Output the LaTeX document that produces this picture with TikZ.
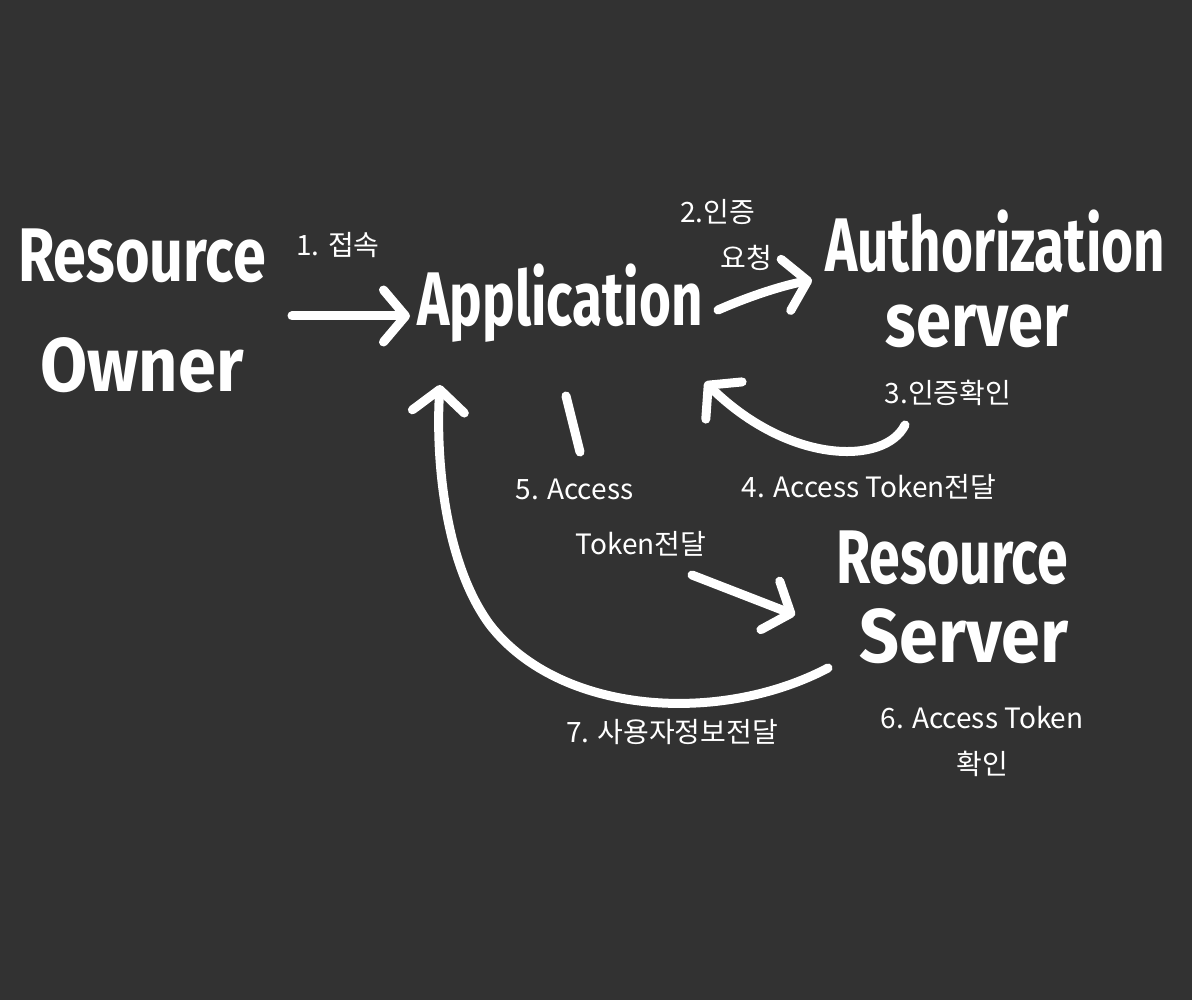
\documentclass[tikz,border=0pt]{standalone}
\usepackage{fontspec}
\setmainfont{Fira Sans}
\newfontfamily\kr{Noto Sans CJK KR}
\usetikzlibrary{arrows.meta}
\definecolor{bg}{RGB}{50,50,50}
\newcommand\squeezed[2][0.72]{\scalebox{#1}[1]{#2}}
\begin{document}
\begin{tikzpicture}[x=1pt,y=-1pt,
  big/.style={text=white,font=\fontsize{76}{100}\selectfont\bfseries,align=center,inner sep=0pt},
  lbl/.style={text=white,font=\kr\fontsize{28}{46}\selectfont,align=center,inner sep=0pt},
  arr/.style={draw=white,line width=9pt,line cap=round,-{Straight Barb[length=22pt,width=52pt,round]}},
  seg/.style={draw=white,line width=9pt,line cap=round}]
\fill[bg] (0,0) rectangle (1192,1000);
\useasboundingbox (0,0) rectangle (1192,1000);

\node[big] (owner) at (142,311) {\squeezed[0.78]{Resource}\\[10pt]\squeezed[0.9]{Owner}};
\node[big] (app) at (560,303) {\squeezed{Application}};
\node[big] (auth) at (995,279) {\squeezed{Authorization}\\[-25pt]\squeezed[0.83]{server}\hspace*{36pt}};
\node[big] (rs) at (952,597) {\squeezed[0.73]{Resource}\\[-21pt]\hspace*{24pt}\squeezed[0.92]{Server}};

\node[lbl] (l1) at (338,245) {1. 접속};
\node[lbl,align=left] (l2) at (726,235) {2.인증\\\hspace*{40pt}요청};
\node[lbl] (l3) at (948,393) {3.인증확인};
\node[lbl] (l4) at (869,487) {4. Access Token전달};
\node[lbl,align=left] (l5) at (611,518) {5. Access\\[9pt]\hspace*{60pt}Token전달};
\node[lbl] (l6) at (982,741) {6. Access Token\\확인};
\node[lbl] (l7) at (672,732) {7. 사용자정보전달};

\coordinate (a1s) at (292,316);
\coordinate (a1e) at (410,316);
\coordinate (a2s) at (718,310);
\coordinate (a2e) at (812,280);
\coordinate (a3s) at (905,425);
\coordinate (a3e) at (705,382);
\coordinate (a5s) at (566,396);
\coordinate (a5m) at (580,452);
\coordinate (a5n) at (692,575);
\coordinate (a5e) at (795,615);
\coordinate (a7s) at (828,668);
\coordinate (a7e) at (440,385);

\draw[arr] (a1s) -- (a1e);
\draw[arr] (a2s) .. controls (745,298) and (780,286) .. (a2e);
\draw[arr] (a3s) .. controls (885,465) and (790,465) .. (a3e);
\draw[seg] (a5s) -- (a5m);
\draw[arr] (a5n) -- (a5e);
\draw[arr] (a7s) .. controls (720,725) and (560,715) .. (490,625) .. controls (442,560) and (436,450) .. (a7e);
\end{tikzpicture}
\end{document}
